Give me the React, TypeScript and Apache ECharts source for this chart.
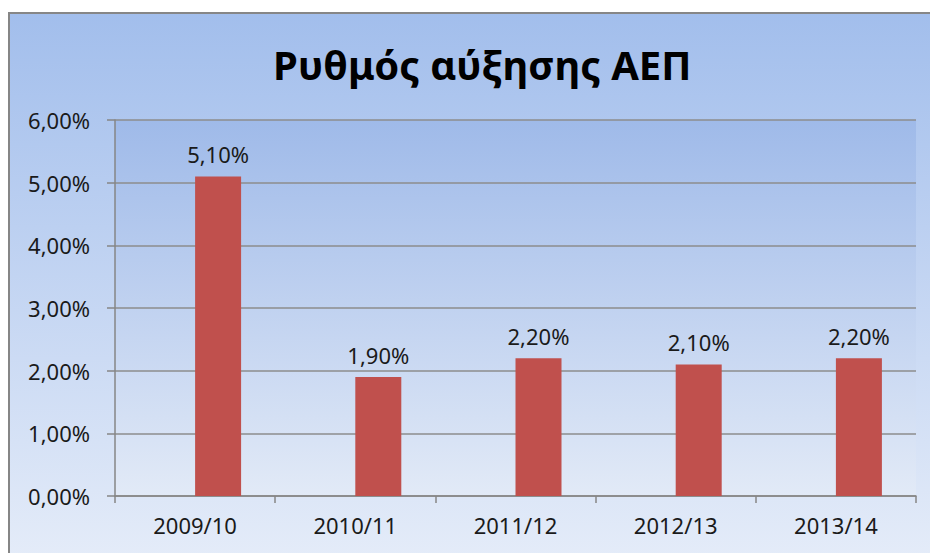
import React, { useEffect, useRef } from "react";
import * as echarts from "echarts";

const categories = ["2009/10", "2010/11", "2011/12", "2012/13", "2013/14"];
const growthValues = [5.1, 1.9, 2.2, 2.1, 2.2];
const emptyValues = [null, null, null, null, null];
const yTicks = { min: 0, max: 6, interval: 1 };
const titleText = "Ρυθμός αύξησης ΑΕΠ";

const fmt = (v: number) => v.toFixed(2).replace(".", ",") + "%";
const FONT = "Noto Sans";

export default function App() {
  const ref = useRef<HTMLDivElement>(null);
  useEffect(() => {
    const chart = echarts.init(ref.current!, undefined, { renderer: "svg" });
    chart.setOption({
      animation: false,
      backgroundColor: "#ffffff",
      graphic: [
        {
          type: "rect",
          left: 8,
          top: 12,
          z: -10,
          shape: { width: 940, height: 560 },
          style: {
            fill: new echarts.graphic.LinearGradient(0, 0, 0, 1, [
              { offset: 0, color: "#a2beec" },
              { offset: 1, color: "#e6edf9" },
            ]),
            stroke: "#868686",
            lineWidth: 2,
          },
        },
      ],
      title: {
        text: titleText,
        left: 268,
        top: 39,
        textStyle: {
          fontFamily: FONT,
          fontWeight: "bold",
          fontSize: 40,
          color: "#000000",
        },
      },
      grid: {
        left: 115,
        right: 14,
        top: 120,
        bottom: 57,
        show: true,
        borderWidth: 0,
        backgroundColor: new echarts.graphic.LinearGradient(0, 0, 0, 1, [
          { offset: 0, color: "#9fbae9" },
          { offset: 1, color: "#e2eaf7" },
        ]),
      },
      xAxis: {
        type: "category",
        data: categories,
        axisLine: { show: true, lineStyle: { color: "#868686", width: 1.5 } },
        axisTick: { show: true, length: 7, alignWithLabel: false, lineStyle: { color: "#868686", width: 1.5 } },
        axisLabel: { fontFamily: FONT, fontSize: 22, color: "#1a1a1a", margin: 18 },
      },
      yAxis: {
        type: "value",
        min: yTicks.min,
        max: yTicks.max,
        interval: yTicks.interval,
        axisLine: { show: true, lineStyle: { color: "#868686", width: 1.5 } },
        axisTick: { show: true, length: 8, lineStyle: { color: "#868686", width: 1.5 } },
        axisLabel: {
          fontFamily: FONT,
          fontSize: 22,
          color: "#1a1a1a",
          margin: 25,
          formatter: (v: number) => fmt(v),
        },
        splitLine: { show: true, lineStyle: { color: "#8c8c8c", width: 1.5 } },
      },
      series: [
        {
          type: "bar",
          name: "empty",
          data: emptyValues,
          barWidth: 46,
          barGap: "0%",
          itemStyle: { color: "#4f81bd" },
        },
        {
          type: "bar",
          name: "ΑΕΠ",
          data: growthValues,
          barWidth: 46,
          barGap: "0%",
          itemStyle: { color: "#c0504d" },
          label: {
            show: true,
            position: "top",
            distance: 11,
            fontFamily: FONT,
            fontSize: 22,
            color: "#1a1a1a",
            formatter: (p: any) => fmt(p.value),
          },
        },
      ],
    });
    return () => chart.dispose();
  }, []);
  return (
    <div
      ref={ref}
      style={{ position: "absolute", left: 0, top: 0, width: 930, height: 553 }}
    />
  );
}
